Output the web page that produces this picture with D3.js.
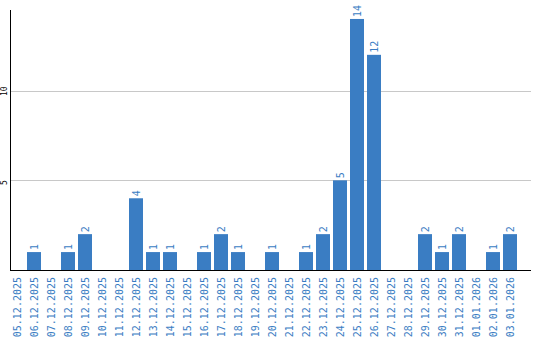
<!DOCTYPE html>
<html>
<head>
<meta charset="utf-8">
<script src="https://cdn.jsdelivr.net/npm/d3@7.9.0/dist/d3.min.js"></script>
<style>
  body { margin: 0; background: #fff; }
  svg { display: block; }
</style>
</head>
<body>
<svg width="540" height="340"></svg>
<script>
const dates = ['05.12.2025', '06.12.2025', '07.12.2025', '08.12.2025', '09.12.2025', '10.12.2025',
  '11.12.2025', '12.12.2025', '13.12.2025', '14.12.2025', '15.12.2025', '16.12.2025',
  '17.12.2025', '18.12.2025', '19.12.2025', '20.12.2025', '21.12.2025', '22.12.2025',
  '23.12.2025', '24.12.2025', '25.12.2025', '26.12.2025', '27.12.2025', '28.12.2025',
  '29.12.2025', '30.12.2025', '31.12.2025', '01.01.2026', '02.01.2026', '03.01.2026'];
const counts = [0, 1, 0, 1, 2, 0, 0, 4, 1, 1, 0, 1, 2, 1, 0, 1, 0, 1, 2, 5, 14, 12, 0, 0, 2, 1, 2, 0, 1, 2];
const yTicks = [5, 10];

const blue = '#3a7dc3';
const svg = d3.select('svg');

let x = d3.scaleBand()
  .domain(dates)
  .range([10, 517])
  .paddingInner(3 / 17)
  .paddingOuter(0);

let y = d3.scaleLinear().domain([0, 14.5]).range([270, 10]);

// grid lines
svg.append('g')
  .selectAll('line')
  .data(yTicks)
  .join('line')
  .attr('x1', 11).attr('x2', 531)
  .attr('y1', (d) => Math.round(y(d)) + 0.5)
  .attr('y2', (d) => Math.round(y(d)) + 0.5)
  .attr('stroke', '#c8c8c8');

// y tick labels
svg.append('g')
  .selectAll('text')
  .data(yTicks)
  .join('text')
  .attr('transform', (d) => `translate(7,${Math.round(y(d)) + 5}) rotate(-90)`)
  .attr('font-family', 'DejaVu Sans Mono')
  .attr('font-size', 8)
  .attr('fill', '#000')
  .text((d) => d);

// bars
let data = dates.map((d, i) => ({ date: d, value: counts[i] }));
let bars = data.filter((d) => d.value > 0);

svg.append('g')
  .selectAll('rect')
  .data(bars)
  .join('rect')
  .attr('x', (d) => x(d.date))
  .attr('y', (d) => y(d.value))
  .attr('width', x.bandwidth())
  .attr('height', (d) => y(0) - y(d.value))
  .attr('fill', blue);

// value labels
svg.append('g')
  .selectAll('text')
  .data(bars)
  .join('text')
  .attr('transform', (d) => `translate(${x(d.date) + x.bandwidth() / 2},${y(d.value) - 2}) rotate(-90)`)
  .attr('dominant-baseline', 'central')
  .attr('font-family', 'DejaVu Sans Mono')
  .attr('font-size', 10)
  .attr('fill', blue)
  .text((d) => d.value);

// axis lines
svg.append('line')
  .attr('x1', 10.5).attr('x2', 10.5)
  .attr('y1', 10).attr('y2', 271)
  .attr('stroke', '#000');
svg.append('line')
  .attr('x1', 10).attr('x2', 531)
  .attr('y1', 270.5).attr('y2', 270.5)
  .attr('stroke', '#000');

// date labels
svg.append('g')
  .selectAll('text')
  .data(dates)
  .join('text')
  .attr('transform', (d) => `translate(${x(d) + x.bandwidth() / 2 + 0.5},277) rotate(-90)`)
  .attr('text-anchor', 'end')
  .attr('dominant-baseline', 'central')
  .attr('font-family', 'DejaVu Sans Mono')
  .attr('font-size', 10)
  .attr('fill', blue)
  .text((d) => d);
</script>
</body>
</html>
